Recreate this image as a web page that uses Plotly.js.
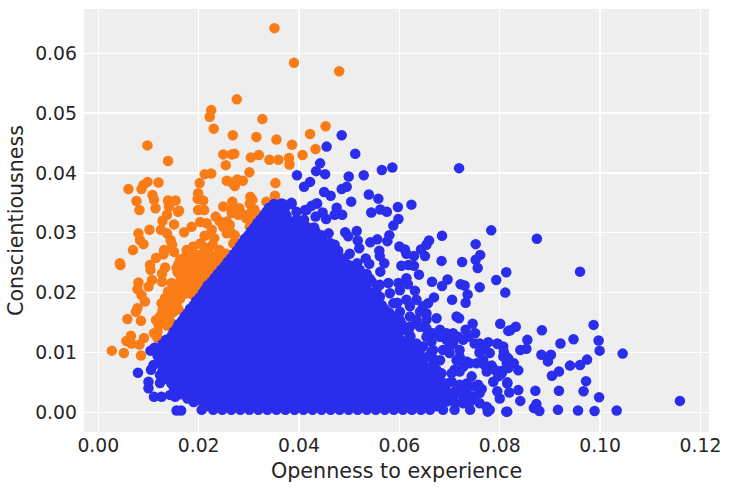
<!DOCTYPE html>
<html><head><meta charset="utf-8">
<script src="https://cdn.plot.ly/plotly-3.0.1.min.js"></script>
<style>html,body{margin:0;padding:0;background:#fff}</style></head>
<body><div id="chart" style="width:731px;height:491px"></div>
<script>
const xTitle = "Openness to experience";
const yTitle = "Conscientiousness";
const xTicks = [0,0.02,0.04,0.06,0.08,0.10,0.12];
const xTickLabels = ["0.00","0.02","0.04","0.06","0.08","0.10","0.12"];
const yTicks = [0,0.01,0.02,0.03,0.04,0.05,0.06];
const yTickLabels = ["0.00","0.01","0.02","0.03","0.04","0.05","0.06"];

// [openness, conscientiousness]
const orangePoints = [
[.0351,.0642],[.0390,.0584],[.0480,.0570],[.0276,.0523],[.0225,.0505],[.0222,.0494],[.0230,.0474],[.0327,.0490],[.0268,.0463],[.0315,.0460],[.0355,.0456],[.0422,.0465],[.0386,.0447],[.0433,.0440],[.0453,.0478],[.0098,.0446],[.0139,.0420],
[.0249,.0431],[.0266,.0431],[.0271,.0432],[.0304,.0426],[.0320,.0430],[.0341,.0422],[.0359,.0422],[.0380,.0425],[.0381,.0414],[.0407,.0430],[.0254,.0413],[.0301,.0401],[.0212,.0398],[.0225,.0399],[.0256,.0387],[.0266,.0384],[.0277,.0389],[.0288,.0387],[.0272,.0378],[.0353,.0383],[.0352,.0362],[.0202,.0383],[.0199,.0366],[.0198,.0357],[.0209,.0354],
[.0098,.0385],[.0090,.0380],[.0086,.0373],[.0060,.0373],[.0120,.0384],[.0108,.0363],[.0111,.0355],[.0076,.0353],[.0139,.0354],[.0154,.0354],[.0303,.0360],[.0307,.0355],[.0267,.0352],[.0335,.0352],[.0249,.0344],[.0281,.0341],[.0302,.0349],[.0311,.0339],[.0199,.0338],[.0211,.0338],[.0082,.0338],[.0114,.0341],[.0141,.0344],[.0161,.0337],[.0266,.0338],
[.0137,.0330],[.0159,.0335],[.0234,.0327],[.0128,.0320],[.0151,.0314],[.0203,.0318],[.0186,.0310],[.0216,.0316],[.0242,.0319],[.0262,.0313],[.0249,.0310],[.0256,.0299],[.0171,.0301],[.0102,.0305],[.0125,.0305],[.0080,.0299],[.0137,.0299],[.0226,.0305],[.0212,.0295],[.0231,.0291],[.0272,.0296],[.0269,.0282],[.0083,.0288],[.0090,.0281],[.0144,.0288],[.0147,.0280],[.0069,.0271],[.0131,.0271],[.0130,.0264],[.0115,.0258],[.0151,.0268],
[.0276,.0338],[.0289,.0330],[.0305,.0335],[.0319,.0330],[.0302,.0310],[.0266,.0333],[.0279,.0330],[.0295,.0324],[.0256,.0319],[.0266,.0299],[.0272,.0285],[.0302,.0321],
[.0176,.0271],[.0189,.0277],[.0203,.0282],[.0219,.0271],[.0242,.0271],[.0183,.0260],[.0199,.0263],[.0216,.0257],[.0232,.0260],[.0246,.0257],[.0163,.0255],[.0176,.0249],[.0196,.0249],[.0212,.0243],[.0226,.0246],[.0239,.0249],[.0156,.0241],[.0169,.0235],[.0186,.0238],[.0203,.0235],[.0219,.0235],[.0163,.0230],[.0179,.0224],[.0196,.0224],[.0212,.0224],[.0176,.0213],[.0183,.0204],[.0189,.0196],[.0176,.0199],
[.0181,.0267],[.0211,.0276],[.0228,.0280],[.0255,.0265],[.0238,.0264],[.0170,.0243],[.0190,.0243],[.0208,.0250],[.0231,.0240],[.0165,.0222],[.0186,.0218],[.0204,.0215],[.0222,.0222],[.0194,.0208],[.0170,.0207],[.0186,.0230],[.0160,.0248],[.0202,.0242],[.0150,.0192],[.0163,.0190],[.0145,.0184],[.0160,.0172],[.0137,.0163],[.0150,.0168],
[.0171,.0258],[.0190,.0255],[.0208,.0265],[.0225,.0255],[.0178,.0238],[.0195,.0234],[.0210,.0231],[.0172,.0229],[.0158,.0234],[.0180,.0218],[.0192,.0216],[.0165,.0214],[.0156,.0205],[.0168,.0198],[.0155,.0186],[.0140,.0190],[.0133,.0180],[.0150,.0176],[.0128,.0170],[.0125,.0152],[.0137,.0145],
[.0044,.0246],[.0043,.0249],[.0103,.0246],[.0104,.0238],[.0133,.0242],[.0127,.0232],[.0127,.0218],[.0146,.0216],[.0107,.0221],[.0100,.0210],[.0080,.0217],[.0078,.0206],[.0086,.0196],[.0093,.0185],[.0139,.0202],[.0153,.0196],[.0133,.0191],[.0126,.0182],[.0156,.0179],[.0143,.0177],[.0133,.0171],[.0078,.0174],[.0075,.0168],[.0123,.0160],[.0115,.0154],[.0058,.0156],[.0085,.0153],[.0120,.0146],[.0111,.0132],[.0118,.0135],[.0146,.0149],[.0143,.0163],[.0065,.0128],[.0056,.0119],[.0066,.0115],[.0082,.0113],[.0091,.0124],[.0027,.0103],[.0051,.0099],[.0085,.0095],[.0118,.0124]
];

// sparse blue points at the edges of the cloud
const blueEdgePoints = [
[.0485,.0463],[.0455,.0444],[.0512,.0432],[.0442,.0416],[.0434,.0403],[.0452,.0398],[.0499,.0394],[.0529,.0396],[.0565,.0405],[.0586,.0409],[.0719,.0408],[.0422,.0385],[.0410,.0377],[.0396,.0396],[.0450,.0368],[.0463,.0362],[.0485,.0373],[.0495,.0377],[.0539,.0364],[.0558,.0357],[.0504,.0352],[.0597,.0343],[.0624,.0347],[.0412,.0338],[.0425,.0345],[.0436,.0349],[.0475,.0342],[.0433,.0327],[.0447,.0334],[.0471,.0330],[.0486,.0330],[.0454,.0323],[.0544,.0334],[.0562,.0339],[.0575,.0335],[.0598,.0323],[.0588,.0312],
[.0783,.0304],[.0685,.0295],[.0659,.0287],[.0654,.0280],[.0752,.0281],[.0761,.0263],[.0752,.0255],[.0756,.0241],[.0643,.0272],[.0651,.0261],[.0684,.0253],[.0725,.0251],[.0813,.0234],[.0793,.0221],[.0811,.0200],[.0416,.0309],[.0433,.0302],[.0402,.0313],[.0408,.0294],[.0459,.0299],[.0492,.0301],[.0498,.0294],[.0515,.0303],[.0517,.0287],[.0448,.0285],[.0471,.0280],[.0542,.0284],[.0556,.0289],[.0580,.0296],[.0576,.0286],[.0600,.0277],[.0611,.0272],[.0614,.0265],[.0629,.0261],[.0520,.0274],[.0501,.0265],[.0560,.0270],[.0561,.0261],[.0533,.0257],[.0540,.0248],[.0516,.0249],[.0497,.0247],[.0570,.0249],[.0562,.0235],[.0604,.0245],[.0618,.0246],[.0629,.0245],[.0639,.0230],[.0665,.0218],[.0696,.0222],[.0685,.0211],[.0722,.0214],[.0730,.0212],[.0760,.0209],[.0736,.0197],[.0705,.0188],[.0732,.0183],[.0614,.0224],[.0617,.0214],[.0598,.0216],[.0578,.0216],[.0561,.0213],[.0541,.0223],[.0631,.0203],[.0669,.0192],[.0657,.0182],[.0634,.0188],[.0614,.0188],[.0596,.0183],[.0641,.0168],[.0654,.0165],[.0674,.0157],[.0634,.0154],[.0714,.0160],[.0719,.0157],[.0801,.0148],[.0746,.0148],[.0817,.0136],[.0732,.0138],[.0751,.0132],[.0681,.0138],[.0704,.0129],[.0727,.0121],[.0621,.0143],[.0654,.0140],[.0681,.0126],[.0664,.0118],[.0760,.0115],[.0777,.0117],[.0796,.0114],[.0807,.0110],[.0780,.0099],[.0760,.0099],[.0700,.0110],[.0720,.0093],[.0664,.0101],[.0667,.0090],[.0813,.0093],[.0767,.0082],[.0784,.0078],[.0754,.0082],[.0734,.0085],[.0774,.0068],[.0804,.0065],[.0787,.0051],[.0815,.0048],[.0795,.0035],[.0800,.0023],[.0813,.0001],[.0710,.0071],[.0720,.0068],[.0704,.0051],[.0744,.0060],[.0757,.0046],[.0764,.0039],[.0674,.0071],[.0681,.0054],[.0694,.0048],[.0720,.0046],[.0734,.0032],[.0741,.0004],[.0687,.0026],[.0707,.0026],[.0727,.0026],[.0760,.0015],[.0776,.0001],[.0774,.0009],[.0687,.0004],[.0710,.0004],[.0747,.0026],
[.0874,.0290],[.0960,.0235],[.0832,.0143],[.0821,.0137],[.0884,.0137],[.0987,.0146],[.0997,.0120],[.0947,.0122],[.0921,.0115],[.0855,.0121],[.0853,.0106],[.0841,.0104],[.0999,.0103],[.1045,.0098],[.0883,.0096],[.0902,.0096],[.0896,.0085],[.0974,.0088],[.0960,.0079],[.0940,.0078],[.0918,.0068],[.0904,.0061],[.0795,.0115],[.0808,.0101],[.0817,.0090],[.0828,.0082],[.0837,.0070],[.0817,.0074],[.0803,.0069],[.0797,.0060],[.0815,.0050],[.0837,.0037],[.0819,.0033],[.0841,.0019],[.0871,.0036],[.0918,.0036],[.0967,.0035],[.0972,.0052],[.0998,.0025],[.1159,.0019],[.0873,.0014],[.0868,.0007],[.0879,.0002],[.0815,.0001],[.0916,.0004],[.0956,.0003],[.0989,.0002],[.1033,.0003],[.0780,.0004],
[.0104,.0103],[.0079,.0066],[.0110,.0079],[.0105,.0071],[.0100,.0051],[.0123,.0049],[.0100,.0040],[.0111,.0026],[.0126,.0026],[.0153,.0026],[.0143,.0029],[.0156,.0003],[.0165,.0003],[.0206,.0004],[.0123,.0062],[.0349,.0346],[.0365,.0349],[.0385,.0350],[.0415,.0338],[.0435,.0349],[.0337,.0334],
[.0694,.0121],[.0707,.0115],[.0687,.0104],[.0700,.0099],[.0720,.0104],[.0667,.0104],[.0657,.0093],[.0681,.0087],[.0714,.0087],[.0667,.0079],[.0667,.0065],[.0684,.0065],[.0657,.0057],[.0667,.0051],[.0681,.0040],[.0694,.0035],[.0704,.0065],[.0727,.0076],[.0740,.0082],[.0770,.0079],[.0734,.0048],[.0747,.0043],[.0760,.0032],[.0711,.0035],[.0727,.0037],[.0741,.0018],[.0727,.0015],[.0711,.0015],[.0694,.0018],[.0677,.0018],[.0750,.0115],[.0737,.0126],[.0760,.0101],[.0770,.0110],[.0807,.0093],[.0814,.0082],[.0790,.0071],[.0800,.0062],[.0767,.0087],
[.0634,.0115],[.0647,.0110],[.0654,.0126],[.0667,.0132],[.0694,.0132],[.0707,.0132],[.0717,.0126],
[.0554,.0204],[.0581,.0199],[.0601,.0204],[.0561,.0193],[.0588,.0182],[.0574,.0168],[.0601,.0168],[.0621,.0177],[.0601,.0154],[.0621,.0160],[.0647,.0177],[.0654,.0155],[.0641,.0143],
[.0488,.0243],[.0521,.0238],[.0502,.0227],[.0535,.0221],[.0521,.0215],[.0481,.0257],[.0442,.0260],[.0462,.0249]
];

// dense body of the blue cloud: one y level with the x positions seen filled on it
const blueBodyY = [.0004,.0017,.0030,.0043,.0056,.0069,.0082,.0095,.0108,.0121,.0134,.0147,.0160,.0173,.0186,.0199,.0212,.0225,.0238,.0251,.0264,.0277,.0290,.0303,.0316,.0329,.0342];
const blueBodyX = [
[.0229,.0247,.0265,.0283,.0301,.0319,.0337,.0355,.0373,.0391,.0409,.0427,.0445,.0463,.0481,.0499,.0517,.0535,.0553,.0571,.0589,.0607,.0625,.0643,.0661],
[.0190,.0208,.0226,.0244,.0262,.0280,.0298,.0316,.0334,.0352,.0370,.0388,.0406,.0424,.0442,.0460,.0478,.0496,.0514,.0532,.0550,.0568,.0586,.0604,.0622,.0640,.0658,.0675],
[.0165,.0183,.0201,.0219,.0237,.0255,.0273,.0291,.0309,.0327,.0345,.0363,.0381,.0399,.0417,.0435,.0453,.0471,.0489,.0507,.0525,.0543,.0561,.0579,.0597,.0615,.0633,.0651,.0669],
[.0150,.0168,.0186,.0204,.0222,.0240,.0258,.0276,.0294,.0312,.0330,.0348,.0366,.0384,.0402,.0420,.0438,.0456,.0474,.0492,.0510,.0528,.0546,.0564,.0582,.0600,.0618,.0636,.0654,.0668],
[.0135,.0153,.0171,.0189,.0207,.0225,.0243,.0261,.0279,.0297,.0315,.0333,.0351,.0369,.0387,.0405,.0423,.0441,.0459,.0477,.0495,.0513,.0531,.0549,.0567,.0585,.0603,.0621,.0639,.0657],
[.0128,.0146,.0164,.0182,.0200,.0218,.0236,.0254,.0272,.0290,.0308,.0326,.0344,.0362,.0380,.0398,.0416,.0434,.0452,.0470,.0488,.0506,.0524,.0542,.0560,.0578,.0596,.0614,.0632,.0650],
[.0125,.0143,.0161,.0179,.0197,.0215,.0233,.0251,.0269,.0287,.0305,.0323,.0341,.0359,.0377,.0395,.0413,.0431,.0449,.0467,.0485,.0503,.0521,.0539,.0557,.0575,.0593,.0611,.0629,.0647],
[.0118,.0136,.0154,.0172,.0190,.0208,.0226,.0244,.0262,.0280,.0298,.0316,.0334,.0352,.0370,.0388,.0406,.0424,.0442,.0460,.0478,.0496,.0514,.0532,.0550,.0568,.0586,.0604,.0622,.0640],
[.0112,.0130,.0148,.0166,.0184,.0202,.0220,.0238,.0256,.0274,.0292,.0310,.0328,.0346,.0364,.0382,.0400,.0418,.0436,.0454,.0472,.0490,.0508,.0526,.0544,.0562,.0580,.0598,.0616,.0634],
[.0135,.0153,.0171,.0189,.0207,.0225,.0243,.0261,.0279,.0297,.0315,.0333,.0351,.0369,.0387,.0405,.0423,.0441,.0459,.0477,.0495,.0513,.0531,.0549,.0567,.0585,.0603,.0621],
[.0150,.0168,.0186,.0204,.0222,.0240,.0258,.0276,.0294,.0312,.0330,.0348,.0366,.0384,.0402,.0420,.0438,.0456,.0474,.0492,.0510,.0528,.0546,.0564,.0582,.0600,.0618],
[.0160,.0178,.0196,.0214,.0232,.0250,.0268,.0286,.0304,.0322,.0340,.0358,.0376,.0394,.0412,.0430,.0448,.0466,.0484,.0502,.0520,.0538,.0556,.0574,.0592,.0605],
[.0172,.0190,.0208,.0226,.0244,.0262,.0280,.0298,.0316,.0334,.0352,.0370,.0388,.0406,.0424,.0442,.0460,.0478,.0496,.0514,.0532,.0550,.0568,.0588],
[.0183,.0201,.0219,.0237,.0255,.0273,.0291,.0309,.0327,.0345,.0363,.0381,.0399,.0417,.0435,.0453,.0471,.0489,.0507,.0525,.0543,.0561,.0570],
[.0195,.0213,.0231,.0249,.0267,.0285,.0303,.0321,.0339,.0357,.0375,.0393,.0411,.0429,.0447,.0465,.0483,.0501,.0519,.0537,.0555],
[.0208,.0226,.0244,.0262,.0280,.0298,.0316,.0334,.0352,.0370,.0388,.0406,.0424,.0442,.0460,.0478,.0496,.0514,.0532,.0540],
[.0218,.0236,.0254,.0272,.0290,.0308,.0326,.0344,.0362,.0380,.0398,.0416,.0434,.0452,.0470,.0488,.0506,.0520],
[.0232,.0250,.0268,.0286,.0304,.0322,.0340,.0358,.0376,.0394,.0412,.0430,.0448,.0466,.0484,.0505,.0523],
[.0245,.0263,.0281,.0299,.0317,.0335,.0353,.0371,.0389,.0407,.0425,.0443,.0461,.0480,.0498],
[.0258,.0276,.0294,.0312,.0330,.0348,.0366,.0384,.0402,.0420,.0438,.0456,.0465,.0483],
[.0270,.0288,.0306,.0324,.0342,.0360,.0378,.0396,.0414,.0432,.0450,.0468],
[.0282,.0300,.0318,.0336,.0354,.0372,.0390,.0408,.0426,.0435,.0453],
[.0292,.0310,.0328,.0346,.0364,.0382,.0400,.0415,.0433],
[.0305,.0323,.0341,.0359,.0377,.0395,.0413],
[.0317,.0335,.0353,.0371,.0385,.0403],
[.0330,.0348,.0366,.0375],
[.0340,.0358,.0372]
];
const blueFillY = [.0010,.0023,.0036,.0049,.0062,.0075,.0088,.0101,.0114,.0127,.0140,.0153,.0166,.0179,.0192,.0205,.0218,.0231,.0244,.0257,.0270,.0283,.0296,.0309,.0322,.0335,.0348];
const blueFillX = [
[.0215,.0234,.0252,.0270,.0288,.0306,.0324,.0342,.0360,.0378,.0396,.0414,.0432,.0450,.0468,.0486,.0504,.0522,.0540,.0558,.0576,.0594,.0612,.0630,.0648,.0666,.0675],
[.0178,.0197,.0215,.0233,.0251,.0269,.0287,.0305,.0323,.0341,.0359,.0377,.0395,.0413,.0431,.0449,.0467,.0485,.0503,.0521,.0539,.0557,.0575,.0593,.0611,.0629,.0647,.0665,.0675],
[.0158,.0175,.0193,.0211,.0229,.0247,.0265,.0283,.0301,.0319,.0337,.0355,.0373,.0391,.0409,.0427,.0445,.0463,.0481,.0499,.0517,.0535,.0553,.0571,.0589,.0607,.0625,.0643,.0661,.0672],
[.0145,.0160,.0178,.0196,.0214,.0232,.0250,.0268,.0286,.0304,.0322,.0340,.0358,.0376,.0394,.0412,.0430,.0448,.0466,.0484,.0502,.0520,.0538,.0556,.0574,.0592,.0610,.0628,.0646,.0668],
[.0136,.0150,.0168,.0186,.0204,.0222,.0240,.0258,.0276,.0294,.0312,.0330,.0348,.0366,.0384,.0402,.0420,.0438,.0456,.0474,.0492,.0510,.0528,.0546,.0564,.0582,.0600,.0618,.0636,.0660],
[.0132,.0151,.0169,.0187,.0205,.0223,.0241,.0259,.0277,.0295,.0313,.0331,.0349,.0367,.0385,.0403,.0421,.0439,.0457,.0475,.0493,.0511,.0529,.0547,.0565,.0583,.0601,.0619,.0637,.0652],
[.0125,.0140,.0158,.0176,.0194,.0212,.0230,.0248,.0266,.0284,.0302,.0320,.0338,.0356,.0374,.0392,.0410,.0428,.0446,.0464,.0482,.0500,.0518,.0536,.0554,.0572,.0590,.0608,.0626,.0648],
[.0120,.0139,.0157,.0175,.0193,.0211,.0229,.0247,.0265,.0283,.0301,.0319,.0337,.0355,.0373,.0391,.0409,.0427,.0445,.0463,.0481,.0499,.0517,.0535,.0553,.0571,.0589,.0607,.0625,.0640],
[.0128,.0144,.0162,.0180,.0198,.0216,.0234,.0252,.0270,.0288,.0306,.0324,.0342,.0360,.0378,.0396,.0414,.0432,.0450,.0468,.0486,.0504,.0522,.0540,.0558,.0576,.0594,.0612,.0630],
[.0146,.0162,.0180,.0198,.0216,.0234,.0252,.0270,.0288,.0306,.0324,.0342,.0360,.0378,.0396,.0414,.0432,.0450,.0468,.0486,.0504,.0522,.0540,.0558,.0576,.0594,.0622],
[.0156,.0174,.0192,.0210,.0228,.0246,.0264,.0282,.0300,.0318,.0336,.0354,.0372,.0390,.0408,.0426,.0444,.0462,.0480,.0498,.0516,.0534,.0552,.0570,.0588,.0612],
[.0167,.0185,.0203,.0221,.0239,.0257,.0275,.0293,.0311,.0329,.0347,.0365,.0383,.0401,.0419,.0437,.0455,.0473,.0491,.0509,.0527,.0545,.0563,.0581,.0598],
[.0178,.0196,.0214,.0232,.0250,.0268,.0286,.0304,.0322,.0340,.0358,.0376,.0394,.0412,.0430,.0448,.0466,.0484,.0502,.0520,.0538,.0556,.0580],
[.0190,.0208,.0226,.0244,.0262,.0280,.0298,.0316,.0334,.0352,.0370,.0388,.0406,.0424,.0442,.0460,.0478,.0496,.0514,.0532,.0550,.0565],
[.0202,.0220,.0238,.0256,.0274,.0292,.0310,.0328,.0346,.0364,.0382,.0400,.0418,.0436,.0454,.0472,.0490,.0508,.0526,.0550],
[.0213,.0231,.0249,.0267,.0285,.0303,.0321,.0339,.0357,.0375,.0393,.0411,.0429,.0447,.0465,.0483,.0501,.0519,.0535],
[.0226,.0244,.0262,.0280,.0298,.0316,.0334,.0352,.0370,.0388,.0406,.0424,.0442,.0460,.0478,.0496,.0514,.0532,.0545],
[.0238,.0256,.0274,.0292,.0310,.0328,.0346,.0364,.0382,.0400,.0418,.0436,.0454,.0472,.0490,.0512,.0535],
[.0252,.0270,.0288,.0306,.0324,.0342,.0360,.0378,.0396,.0414,.0432,.0450,.0468,.0486,.0505],
[.0264,.0282,.0300,.0318,.0336,.0354,.0372,.0390,.0408,.0426,.0444,.0462,.0475,.0490],
[.0276,.0294,.0312,.0330,.0348,.0366,.0384,.0402,.0420,.0438,.0456,.0478],
[.0287,.0305,.0323,.0341,.0359,.0377,.0395,.0413,.0431,.0449,.0462],
[.0299,.0317,.0335,.0353,.0371,.0389,.0407,.0425,.0445],
[.0311,.0329,.0347,.0365,.0383,.0401,.0418,.0430],
[.0323,.0341,.0359,.0377,.0395,.0410],
[.0335,.0353,.0371,.0395],
[.0350,.0368,.0385]
];

const blueX = blueEdgePoints.map(p => p[0]);
const blueY = blueEdgePoints.map(p => p[1]);
blueBodyY.forEach((y, i) => blueBodyX[i].forEach(x => { blueX.push(x); blueY.push(y); }));
blueFillY.forEach((y, i) => blueFillX[i].forEach(x => { blueX.push(x); blueY.push(y); }));

const ink = "#262626";
const fam = "DejaVu Sans, sans-serif";
const axisBase = {gridcolor: "#ffffff", gridwidth: 1.3, zeroline: false, showline: false, ticks: "", automargin: false};

Plotly.newPlot("chart", [
  {type: "scatter", mode: "markers", x: orangePoints.map(p => p[0]), y: orangePoints.map(p => p[1]),
   marker: {color: "#fa7c17", size: 10.5, line: {width: 0}}, hoverinfo: "skip"},
  {type: "scatter", mode: "markers", x: blueX, y: blueY,
   marker: {color: "#2a2eec", size: 10.5, line: {width: 0}}, hoverinfo: "skip"}
], {
  width: 731, height: 491, showlegend: false,
  paper_bgcolor: "#ffffff", plot_bgcolor: "#eeeeee",
  margin: {l: 84, r: 22, t: 9, b: 59, pad: 0},
  font: {family: fam, color: ink},
  xaxis: Object.assign({}, axisBase, {
    range: [-0.00285, 0.1217], tickmode: "array", tickvals: xTicks, ticktext: xTickLabels,
    tickfont: {size: 18.8, color: ink, family: fam},
    title: {text: xTitle, standoff: 8, font: {size: 20.7, color: ink, family: fam}}
  }),
  yaxis: Object.assign({}, axisBase, {
    range: [-0.0033, 0.0674], tickmode: "array", tickvals: yTicks, ticktext: yTickLabels,
    ticklabelstandoff: 6,
    tickfont: {size: 18.8, color: ink, family: fam},
    title: {text: yTitle, standoff: 5, font: {size: 20.6, color: ink, family: fam}}
  })
}, {displayModeBar: false, staticPlot: true});
</script></body></html>
